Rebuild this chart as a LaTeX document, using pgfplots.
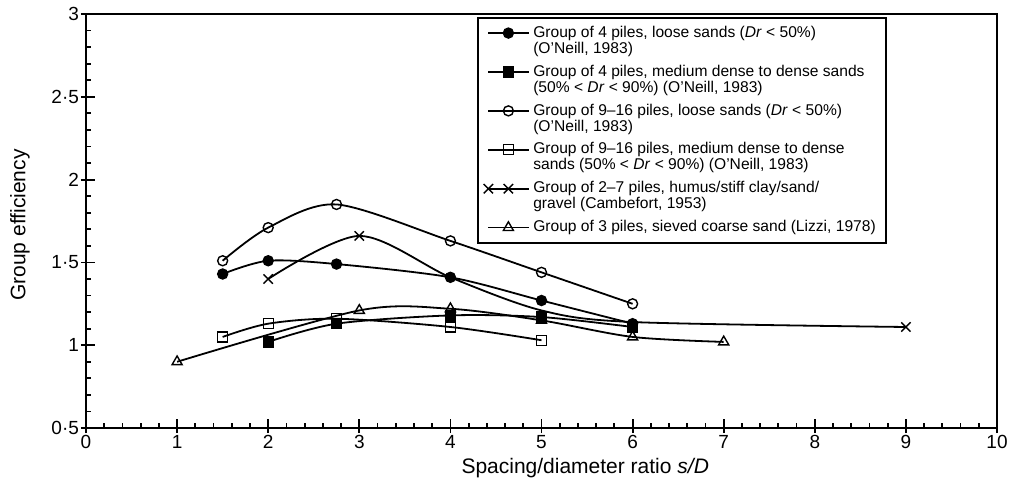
\documentclass[border=0pt]{standalone}
\usepackage{pgfplots}
\pgfplotsset{compat=1.18}
\usepackage{fontspec}
\setmainfont{Liberation Sans}
\begin{document}
\begin{tikzpicture}
\useasboundingbox (-43pt,-33.5pt) rectangle (462pt,214pt);
\begin{axis}[
  at={(0pt,0pt)}, anchor=south west,
  scale only axis, width=455.5pt, height=207pt,
  xmin=0, xmax=10, ymin=0.5, ymax=3,
  xtick={0,1,...,10}, minor x tick num=4,
  ytick={0.5,1,1.5,2,2.5,3}, yticklabels={0·5,1,1·5,2,2·5,3},
  minor y tick num=4,
  tick pos=left, tick align=inside,
  major tick length=4.5pt, minor tick length=2.5pt,
  extra x ticks={0,1,...,10}, extra x tick labels={},
  extra y ticks={0.5,1,1.5,2,2.5,3}, extra y tick labels={},
  extra tick style={tick align=outside, major tick length=2.5pt},
  every tick/.style={black, line width=0.9pt},
  axis line style={line width=1.2pt},
  ticklabel style={font=\fontsize{9.5}{11}\selectfont},
  /pgf/number format/assume math mode=true,
  every axis x label/.style={at={(axis description cs:0.548,0)}, yshift=-20pt, anchor=center},
  every axis y label/.style={at={(axis description cs:0,0.49)}, xshift=-33pt, rotate=90, anchor=center},
  label style={font=\fontsize{10.5}{12}\selectfont},
  xlabel={Spacing/diameter ratio \textit{s/D}},
  ylabel={Group efficiency},
  legend style={at={(rel axis cs:0.429,1)}, anchor=north west, yshift=-1.5pt,
    font=\fontsize{7.8}{8}\selectfont, draw=black, line width=0.9pt,
    cells={align=left}, row sep=0.3pt, inner xsep=3pt, inner ysep=2pt},
  legend cell align=left,
  legend image code/.code={\draw[mark repeat=2,mark phase=2] plot coordinates {(0pt,0pt)(10pt,0pt)(20pt,0pt)};},
  every axis plot/.append style={black, line width=0.9pt, smooth, tension=0.5,
    mark options={line width=0.7pt, solid}},
  two line entry/.style={legend image post style={yshift=4pt}},
]
% Group of 4 piles, loose sands
\addplot[mark=*, mark size=2.5pt, two line entry] coordinates {
  (1.5,1.43) (2,1.51) (2.75,1.49) (4,1.41) (5,1.27) (6,1.13)};
\addlegendentry{Group of 4 piles, loose sands (\textit{Dr} < 50\%)\\(O'Neill, 1983)}
% Group of 4 piles, medium dense to dense sands
\addplot[mark=square*, mark size=2.5pt, two line entry] coordinates {
  (2,1.02) (2.75,1.13) (4,1.18) (5,1.17) (6,1.11)};
\addlegendentry{Group of 4 piles, medium dense to dense sands\\(50\% < \textit{Dr} < 90\%) (O'Neill, 1983)}
% Group of 9-16 piles, loose sands
\addplot[mark=o, mark size=2.5pt, two line entry] coordinates {
  (1.5,1.51) (2,1.71) (2.75,1.85) (4,1.63) (5,1.44) (6,1.25)};
\addlegendentry{Group of 9--16 piles, loose sands (\textit{Dr} < 50\%)\\(O'Neill, 1983)}
% Group of 9-16 piles, medium dense to dense sands
\addplot[mark=square, mark size=2.5pt, two line entry] coordinates {
  (1.5,1.05) (2,1.13) (2.75,1.16) (4,1.11) (5,1.03)};
\addlegendentry{Group of 9--16 piles, medium dense to dense\\sands (50\% < \textit{Dr} < 90\%) (O'Neill, 1983)}
% Group of 2-7 piles (Cambefort)
\addplot[mark=x, mark size=3.3pt, mark indices={1,2,6}, two line entry] coordinates {
  (2,1.40) (3,1.66) (4,1.41) (5,1.21) (6,1.14) (9,1.11)};
\addlegendentry{Group of 2--7 piles, humus/stiff clay/sand/\\gravel (Cambefort, 1953)}
% Group of 3 piles (Lizzi)
\addplot[mark=triangle, mark size=2.9pt] coordinates {
  (1,0.90) (3,1.21) (4,1.22) (5,1.15) (6,1.05) (7,1.02)};
\addlegendentry{Group of 3 piles, sieved coarse sand (Lizzi, 1978)}
\end{axis}
\end{tikzpicture}
\end{document}
